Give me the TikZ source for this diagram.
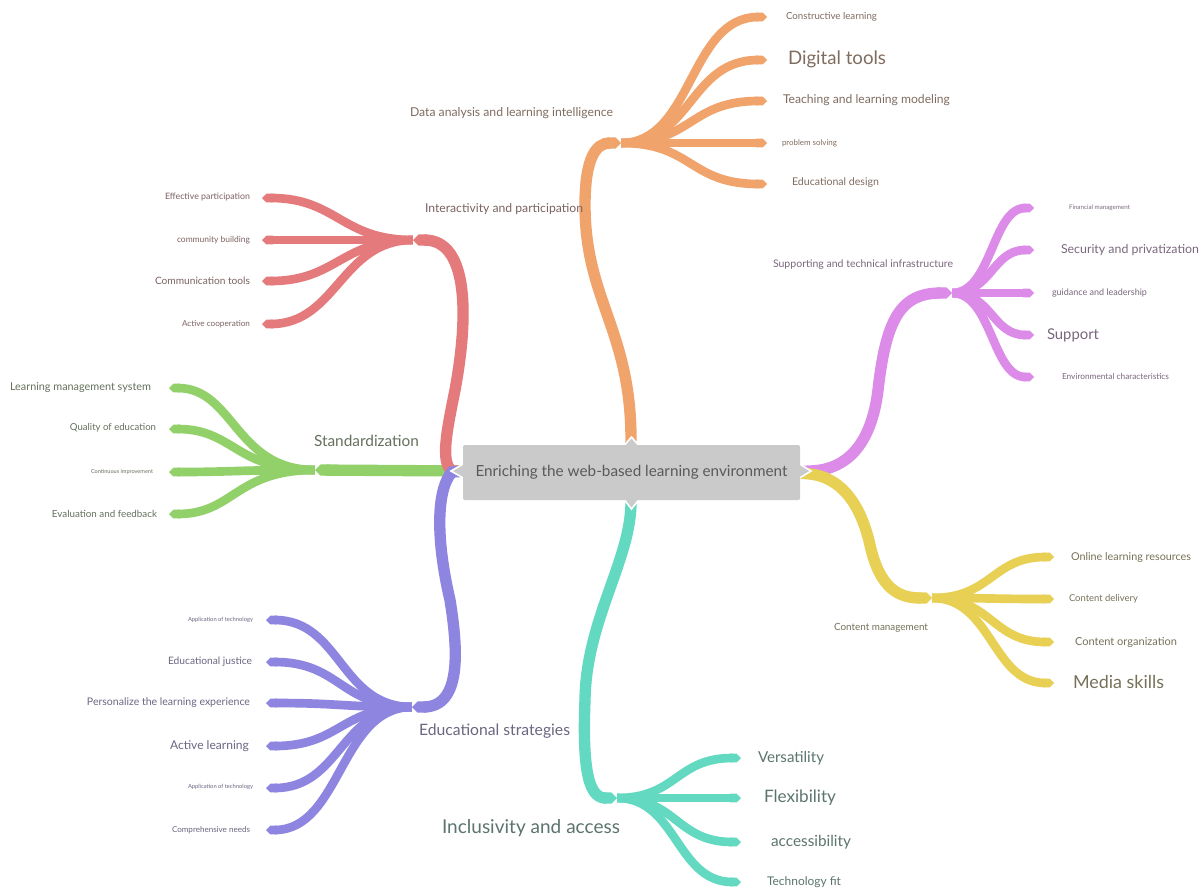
\documentclass[tikz,border=0pt]{standalone}
\usepackage{fontspec}
\setmainfont{Lato}
\usetikzlibrary{arrows.meta,calc}
\newdimen\pxu \pxu=0.75pt
\newcommand\fitw[2]{\resizebox{#1\pxu}{!}{#2}}
\definecolor{cOr}{HTML}{F0A46C}
\definecolor{cRe}{HTML}{E57A7C}
\definecolor{cGr}{HTML}{92D06A}
\definecolor{cPu}{HTML}{8E85E0}
\definecolor{cTe}{HTML}{62D9C0}
\definecolor{cPi}{HTML}{DC8CE8}
\definecolor{cYe}{HTML}{E8D055}
\definecolor{cRoot}{HTML}{CACACA}
\definecolor{cTxt}{HTML}{5A5A5A}
\colorlet{tOr}{cOr!25!cTxt}
\colorlet{tRe}{cRe!25!cTxt}
\colorlet{tGr}{cGr!20!cTxt}
\colorlet{tPu}{cPu!30!cTxt}
\colorlet{tTe}{cTe!20!cTxt}
\colorlet{tPi}{cPi!25!cTxt}
\colorlet{tYe}{cYe!20!cTxt}
\begin{document}
\begin{tikzpicture}[x=0.75pt,y=-0.75pt,
  trunk/.style={line width=8.5pt,-{Triangle Cap}},
  leaf/.style={line width=6.5pt,-{Triangle Cap}},
  capw/.style={white,line width=11pt,-{Triangle Cap}},
  bump/.style={fill=cRoot,draw=white,line width=1.2pt,line join=miter},
  lw/.style={anchor=west,inner sep=0pt,outer sep=0pt},
  le/.style={anchor=east,inner sep=0pt,outer sep=0pt},
  rootbox/.style={fill=cRoot,rounded corners=1.5pt,minimum width=252.75pt,minimum height=41.25pt,inner sep=0pt,text=cTxt}]
\useasboundingbox (0,0) rectangle (1201,890);
\fill[white] (0,0) rectangle (1201,890);

% ---------- coordinates ----------
\coordinate (cL) at (470,471);
\coordinate (cT) at (631,455);
\coordinate (cB) at (631,490);
\coordinate (cR) at (790,472);
% hubs
\coordinate (oE) at (621,143);
\coordinate (rE) at (413,240);
\coordinate (gE) at (315,470);
\coordinate (pE) at (412,707);
\coordinate (tE) at (617,798);
\coordinate (iE) at (952,293);
\coordinate (yE) at (932,598);
% tips
\coordinate (o1) at (767,17);  \coordinate (o2) at (767,60);
\coordinate (o3) at (767,101); \coordinate (o4) at (767,143);
\coordinate (o5) at (767,184);
\coordinate (r1) at (262,198); \coordinate (r2) at (262,240);
\coordinate (r3) at (262,281); \coordinate (r4) at (262,324);
\coordinate (g1) at (169,388); \coordinate (g2) at (169,429);
\coordinate (g3) at (169,472); \coordinate (g4) at (169,514);
\coordinate (p1) at (266,620); \coordinate (p2) at (266,662);
\coordinate (p3) at (266,703); \coordinate (p4) at (266,746);
\coordinate (p5) at (266,788); \coordinate (p6) at (266,830);
\coordinate (t1) at (741,758); \coordinate (t2) at (741,798);
\coordinate (t3) at (741,842); \coordinate (t4) at (741,882);
\coordinate (i1) at (1034,208); \coordinate (i2) at (1034,250);
\coordinate (i3) at (1034,293); \coordinate (i4) at (1034,335);
\coordinate (i5) at (1034,377);
\coordinate (y1) at (1054,557); \coordinate (y2) at (1054,599);
\coordinate (y3) at (1054,642); \coordinate (y4) at (1054,683);

% ---------- leaves ----------
\foreach \t in {o1,o2,o3,o4,o5}
  \draw[leaf,cOr] (oE) .. controls +(72,0) and +(-78,0) .. (\t);
\foreach \t in {r1,r2,r3,r4}
  \draw[leaf,cRe] (rE) .. controls +(-72,0) and +(75,0) .. (\t);
\foreach \t in {g1,g2,g3,g4}
  \draw[leaf,cGr] (gE) .. controls +(-80,0) and +(65,0) .. (\t);
\foreach \t in {p1,p2,p3,p4,p5,p6}
  \draw[leaf,cPu] (pE) .. controls +(-72,0) and +(75,0) .. (\t);
\foreach \t in {t1,t2,t3,t4}
  \draw[leaf,cTe] (tE) .. controls +(60,0) and +(-65,0) .. (\t);
\foreach \t in {i1,i2,i3,i4,i5}
  \draw[leaf,cPi] (iE) .. controls +(40,0) and +(-42,0) .. (\t);
\foreach \t in {y1,y2,y3,y4}
  \draw[leaf,cYe] (yE) .. controls +(60,0) and +(-62,0) .. (\t);

% ---------- white notch outlines ----------
\draw[capw] ($(oE)+(-0.2,0)$) -- (oE);
\draw[capw] ($(rE)+(0.2,0)$) -- (rE);
\draw[capw] ($(gE)+(0.2,0)$) -- (gE);
\draw[capw] ($(pE)+(0.2,0)$) -- (pE);
\draw[capw] ($(tE)+(-0.2,0)$) -- (tE);
\draw[capw] ($(iE)+(-0.2,0)$) -- (iE);
\draw[capw] ($(yE)+(-0.2,0)$) -- (yE);

% ---------- trunks ----------
\draw[trunk,cGr] (cL) -- (gE);
\draw[trunk,cRe] (cL) -- (452,471) .. controls (440,462) and (447,430) .. (455,390)
   .. controls (468,320) and (470,240) .. (rE);
\draw[trunk,cPu] (cL) -- (452,472) .. controls (436,490) and (436,540) .. (450,600)
   .. controls (458,650) and (462,707) .. (pE);
\draw[trunk,cOr] (cT) -- (631,440) .. controls (631,330) and (585,300) .. (585,205)
   .. controls (585,158) and (596,143) .. (oE);
\draw[trunk,cTe] (cB) -- (631,502) .. controls (631,560) and (586,620) .. (585,700)
   .. controls (582,775) and (590,798) .. (tE);
\draw[trunk,cPi] (cR) -- (810,471) .. controls (850,470) and (872,440) .. (878,390)
   .. controls (886,320) and (900,293) .. (iE);
\draw[trunk,cYe] (cR) -- (810,474) .. controls (845,478) and (862,510) .. (870,545)
   .. controls (880,590) and (900,598) .. (yE);

% ---------- central topic ----------
\filldraw[bump] (623,447) -- (631.5,437) -- (640,447) -- cycle;
\filldraw[bump] (623,498) -- (631.5,509) -- (640,498) -- cycle;
\filldraw[bump] (465,463) -- (451,471) -- (465,479) -- cycle;
\filldraw[bump] (798,463) -- (811,471) -- (798,479) -- cycle;
\node[rootbox] (root) at (631.5,472.5) {\fitw{312}{Enriching the web-based learning environment}};

% ---------- labels ----------
% orange
\node[lw,text=tOr] (lo1) at (786,17)  {\fitw{91}{Constructive learning}};
\node[lw,text=tOr] (lo2) at (788,59)  {\fitw{98}{Digital tools}};
\node[lw,text=tOr] (lo3) at (783,100) {\fitw{167}{Teaching and learning modeling}};
\node[lw,text=tOr] (lo4) at (782,143) {\fitw{55}{problem solving}};
\node[lw,text=tOr] (lo5) at (792,183) {\fitw{87}{Educational design}};
\node[lw,text=tOr] (lo)  at (410,113) {\fitw{203}{Data analysis and learning intelligence}};
% red
\node[le,text=tRe] (lr1) at (250,197) {\fitw{85}{Effective participation}};
\node[le,text=tRe] (lr2) at (250,240) {\fitw{73}{community building}};
\node[le,text=tRe] (lr3) at (250,281) {\fitw{95}{Communication tools}};
\node[le,text=tRe] (lr4) at (250,324) {\fitw{68}{Active cooperation}};
\node[lw,text=tRe] (lr)  at (425,209) {\fitw{158}{Interactivity and participation}};
% green
\node[le,text=tGr] (lg1) at (151,388) {\fitw{141}{Learning management system}};
\node[le,text=tGr] (lg2) at (156,428) {\fitw{86}{Quality of education}};
\node[le,text=tGr] (lg3) at (153,472) {\fitw{62}{Continuous improvement}};
\node[le,text=tGr] (lg4) at (157,514) {\fitw{105}{Evaluation and feedback}};
\node[lw,text=tGr] (lg)  at (314,441) {\fitw{105}{Standardization}};
% purple
\node[le,text=tPu] (lp1) at (253,620) {\fitw{65}{Application of technology}};
\node[le,text=tPu] (lp2) at (252,662) {\fitw{84}{Educational justice}};
\node[le,text=tPu] (lp3) at (250,703) {\fitw{163}{Personalize the learning experience}};
\node[le,text=tPu] (lp4) at (249,746) {\fitw{79}{Active learning}};
\node[le,text=tPu] (lp5) at (253,787) {\fitw{65}{Application of technology}};
\node[le,text=tPu] (lp6) at (250,830) {\fitw{78}{Comprehensive needs}};
\node[lw,text=tPu] (lp)  at (419,731) {\fitw{151}{Educational strategies}};
% teal
\node[lw,text=tTe] (lt1) at (758,758) {\fitw{66}{Versatility}};
\node[lw,text=tTe] (lt2) at (764,798) {\fitw{72}{Flexibility}};
\node[lw,text=tTe] (lt3) at (771,842) {\fitw{80}{accessibility}};
\node[lw,text=tTe] (lt4) at (767,882) {\fitw{74}{Technology fit}};
\node[lw,text=tTe] (lt)  at (442,828) {\fitw{178}{Inclusivity and access}};
% pink
\node[lw,text=tPi] (li1) at (1069,208) {\fitw{61}{Financial management}};
\node[lw,text=tPi] (li2) at (1061,250) {\fitw{138}{Security and privatization}};
\node[lw,text=tPi] (li3) at (1052,293) {\fitw{95}{guidance and leadership}};
\node[lw,text=tPi] (li4) at (1047,335) {\fitw{52}{Support}};
\node[lw,text=tPi] (li5) at (1062,376) {\fitw{107}{Environmental characteristics}};
\node[lw,text=tPi] (li)  at (773,265)  {\fitw{180}{Supporting and technical infrastructure}};
% yellow
\node[lw,text=tYe] (ly1) at (1071,557) {\fitw{120}{Online learning resources}};
\node[lw,text=tYe] (ly2) at (1069,599) {\fitw{69}{Content delivery}};
\node[lw,text=tYe] (ly3) at (1075,642) {\fitw{102}{Content organization}};
\node[lw,text=tYe] (ly4) at (1073,682) {\fitw{91}{Media skills}};
\node[lw,text=tYe] (ly)  at (834,628)  {\fitw{94}{Content management}};
\end{tikzpicture}
\end{document}
